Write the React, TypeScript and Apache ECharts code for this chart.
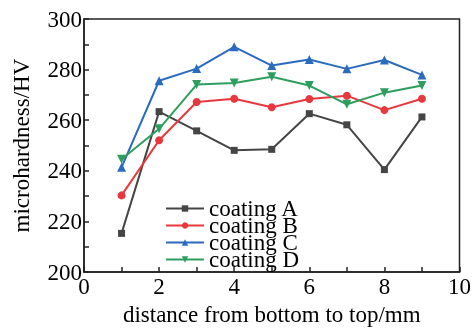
import React, { useEffect, useRef } from "react";
import * as echarts from "echarts";

const xValues = [1, 2, 3, 4, 5, 6, 7, 8, 9];
const seriesNames = ["coating A", "coating B", "coating C", "coating D"];
const coatingA = [215.3, 263.4, 255.8, 248.1, 248.5, 262.6, 258.2, 240.5, 261.3];
const coatingB = [230.3, 252.1, 267.2, 268.5, 265.1, 268.4, 269.7, 264.0, 268.5];
const coatingC = [241.4, 275.6, 280.4, 289.0, 281.6, 284.0, 280.3, 283.8, 277.9];
const coatingD = [244.6, 256.6, 274.1, 274.7, 277.2, 273.7, 266.3, 270.9, 273.7];
const colors = ["#454545", "#e8383d", "#2b6bbf", "#2e9e5e"];
const symbols = ["rect", "circle", "triangle", "path://M0,0 L10,0 L5,9 Z"];
const symbolSizes = [7, 8, 9, 9];

const FONT = "Liberation Serif";

export default function App() {
  const ref = useRef<HTMLDivElement>(null);
  useEffect(() => {
    if (!ref.current) return;
    const chart = echarts.init(ref.current, undefined, { renderer: "svg" });
    const all = [coatingA, coatingB, coatingC, coatingD];
    chart.setOption({
      animation: false,
      textStyle: { fontFamily: FONT, color: "#000" },
      grid: {
        left: 84,
        top: 19,
        right: 13,
        bottom: 49,
        show: true,
        borderColor: "#222",
        borderWidth: 1.5,
      },
      legend: {
        orient: "vertical",
        left: 165,
        top: 197,
        padding: 0,
        itemWidth: 38,
        itemHeight: 8,
        itemGap: -6,
        textStyle: { fontFamily: FONT, fontSize: 23, color: "#000" },
        data: seriesNames,
      },
      xAxis: {
        type: "value",
        min: 0,
        max: 10,
        interval: 2,
        name: "distance from bottom to top/mm",
        nameLocation: "middle",
        nameGap: 27,
        nameTextStyle: { fontFamily: FONT, fontSize: 23, color: "#000" },
        axisLine: { lineStyle: { color: "#222", width: 1.5 } },
        axisTick: { inside: true, length: 5, lineStyle: { color: "#222", width: 1.5 } },
        minorTick: { show: true, splitNumber: 2, length: 5, lineStyle: { color: "#222", width: 1.5 } },
        axisLabel: { fontFamily: FONT, fontSize: 23, color: "#000", margin: 3 },
        splitLine: { show: false },
      },
      yAxis: {
        type: "value",
        min: 200,
        max: 300,
        interval: 20,
        name: "microhardness/HV",
        nameLocation: "middle",
        nameGap: 51,
        nameTextStyle: { fontFamily: FONT, fontSize: 23, color: "#000" },
        axisLine: { show: true, lineStyle: { color: "#222", width: 1.5 } },
        axisTick: { show: true, inside: true, length: 5, lineStyle: { color: "#222", width: 1.5 } },
        minorTick: { show: true, splitNumber: 2, length: 5, lineStyle: { color: "#222", width: 1.5 } },
        axisLabel: { fontFamily: FONT, fontSize: 23, color: "#000", margin: 2 },
        splitLine: { show: false },
      },
      series: seriesNames.map((name, i) => ({
        name,
        type: "line",
        data: xValues.map((x, j) => [x, all[i][j]]),
        symbol: symbols[i],
        symbolSize: symbolSizes[i],
        showAllSymbol: true,
        itemStyle: { color: colors[i] },
        lineStyle: { color: colors[i], width: 2 },
      })),
    });
    return () => chart.dispose();
  }, []);
  return (
    <div
      ref={ref}
      style={{ position: "fixed", left: 0, top: 0, width: 474, height: 331 }}
    />
  );
}
